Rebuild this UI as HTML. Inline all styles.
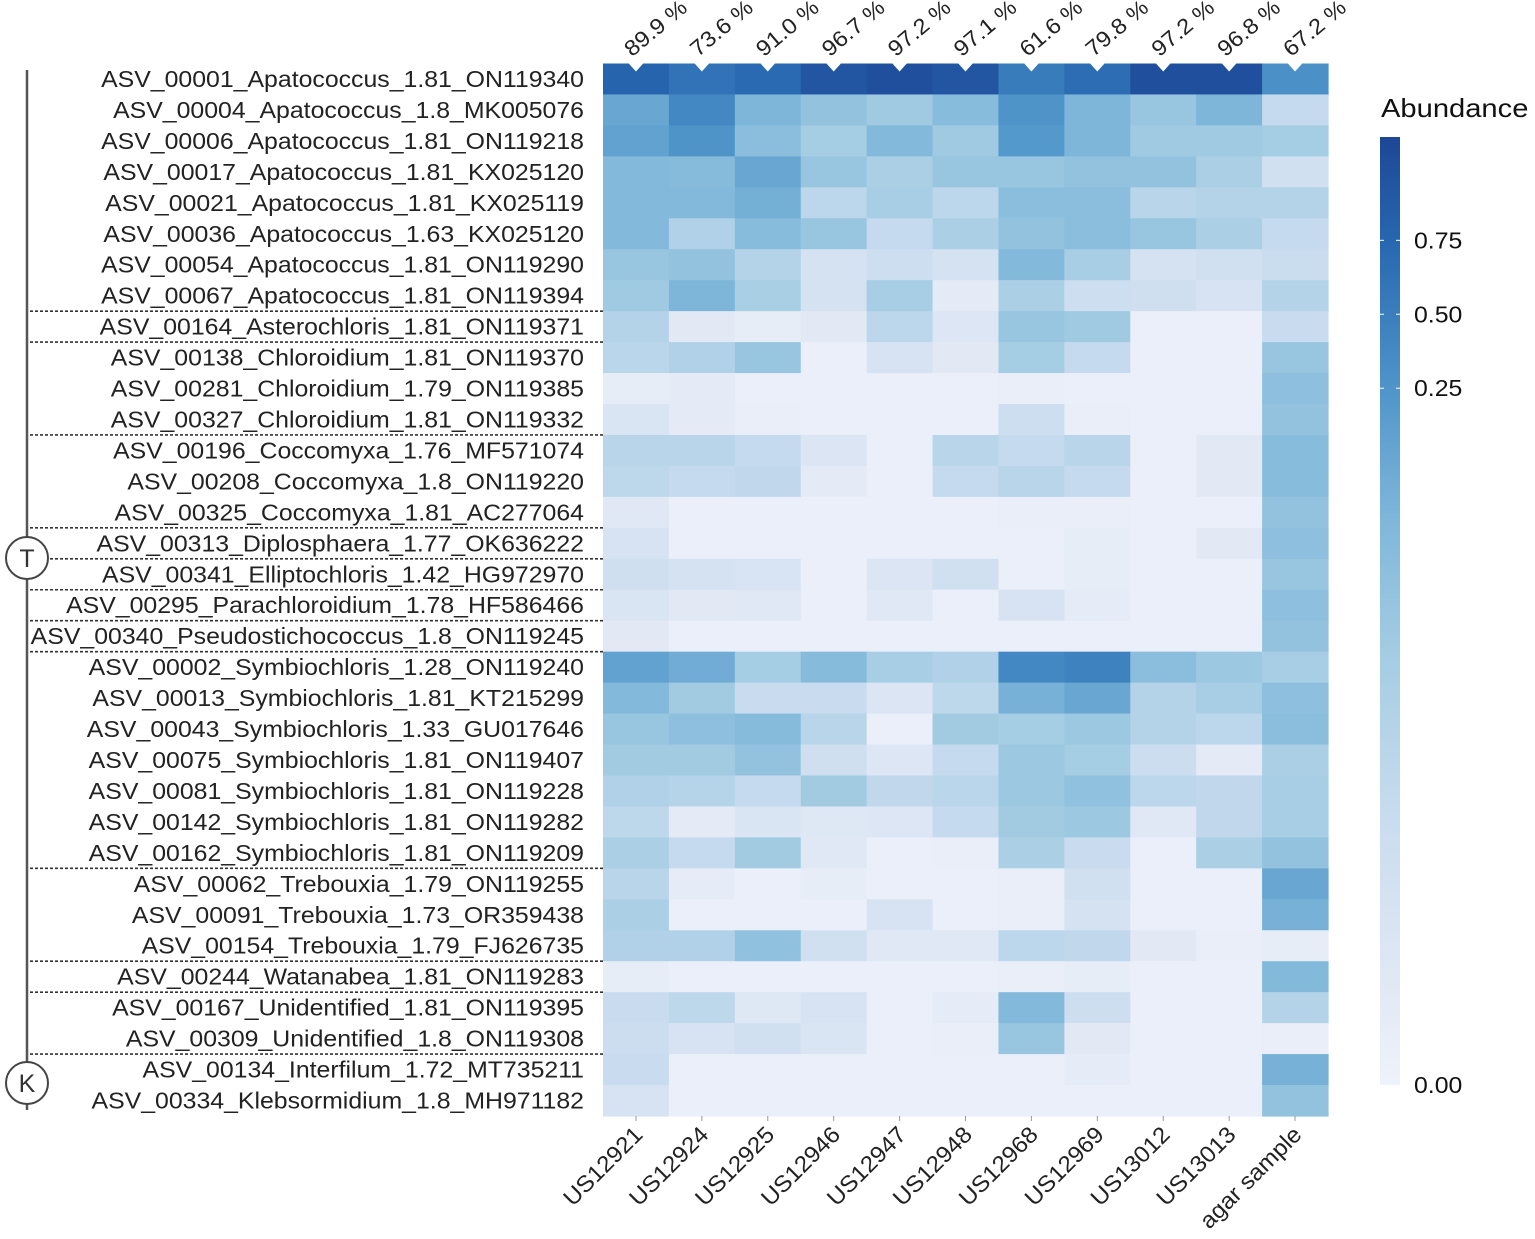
<!DOCTYPE html>
<html><head><meta charset="utf-8"><style>
html,body{margin:0;padding:0;background:#fff;}
svg{display:block;font-family:"Liberation Sans",Arial,sans-serif;}
</style></head><body>
<svg id="chart" width="1535" height="1239" viewBox="0 0 1535 1239" xmlns="http://www.w3.org/2000/svg">
<defs>
<linearGradient id="cbar" x1="0" y1="1" x2="0" y2="0">
<stop offset="0" stop-color="#eff2fa"/><stop offset="0.1" stop-color="#e2e9f5"/>
<stop offset="0.28" stop-color="#c9dcef"/><stop offset="0.45" stop-color="#a5cde3"/>
<stop offset="0.6" stop-color="#7eb6da"/><stop offset="0.735" stop-color="#4f95c9"/>
<stop offset="0.89" stop-color="#2767b0"/><stop offset="1" stop-color="#1d4796"/>
</linearGradient>
</defs>
<g id="cells"></g>
<g id="rowlabels"></g>
<g id="collabels"></g>
<g id="pcts"></g>
<g id="seps"></g>
<line x1="27" y1="70" x2="27" y2="1110" stroke="#555" stroke-width="2.5"/>
<g>
<circle cx="27" cy="558" r="21" fill="#fff" stroke="#444" stroke-width="2"/>
<text x="27" y="567" font-size="25" text-anchor="middle" fill="#333">T</text></g>
<g>
<circle cx="27" cy="1083" r="21" fill="#fff" stroke="#444" stroke-width="2"/>
<text x="27" y="1092" font-size="25" text-anchor="middle" fill="#333">K</text></g>
<g>
<text class="st" data-f="1.12" x="1381" y="117" font-size="26" fill="#111">Abundance</text>
<rect x="1380" y="137" width="20" height="948" fill="url(#cbar)"/>
<g id="legticks"></g>
</g>
</svg>
<script>
const samples=["US12921","US12924","US12925","US12946","US12947","US12948","US12968","US12969","US13012","US13013","agar sample"];
const percents=["89.9 %","73.6 %","91.0 %","96.7 %","97.2 %","97.1 %","61.6 %","79.8 %","97.2 %","96.8 %","67.2 %"];
const asvs=["ASV_00001_Apatococcus_1.81_ON119340","ASV_00004_Apatococcus_1.8_MK005076","ASV_00006_Apatococcus_1.81_ON119218","ASV_00017_Apatococcus_1.81_KX025120","ASV_00021_Apatococcus_1.81_KX025119","ASV_00036_Apatococcus_1.63_KX025120","ASV_00054_Apatococcus_1.81_ON119290","ASV_00067_Apatococcus_1.81_ON119394","ASV_00164_Asterochloris_1.81_ON119371","ASV_00138_Chloroidium_1.81_ON119370","ASV_00281_Chloroidium_1.79_ON119385","ASV_00327_Chloroidium_1.81_ON119332","ASV_00196_Coccomyxa_1.76_MF571074","ASV_00208_Coccomyxa_1.8_ON119220","ASV_00325_Coccomyxa_1.81_AC277064","ASV_00313_Diplosphaera_1.77_OK636222","ASV_00341_Elliptochloris_1.42_HG972970","ASV_00295_Parachloroidium_1.78_HF586466","ASV_00340_Pseudostichococcus_1.8_ON119245","ASV_00002_Symbiochloris_1.28_ON119240","ASV_00013_Symbiochloris_1.81_KT215299","ASV_00043_Symbiochloris_1.33_GU017646","ASV_00075_Symbiochloris_1.81_ON119407","ASV_00081_Symbiochloris_1.81_ON119228","ASV_00142_Symbiochloris_1.81_ON119282","ASV_00162_Symbiochloris_1.81_ON119209","ASV_00062_Trebouxia_1.79_ON119255","ASV_00091_Trebouxia_1.73_OR359438","ASV_00154_Trebouxia_1.79_FJ626735","ASV_00244_Watanabea_1.81_ON119283","ASV_00167_Unidentified_1.81_ON119395","ASV_00309_Unidentified_1.8_ON119308","ASV_00134_Interfilum_1.72_MT735211","ASV_00334_Klebsormidium_1.8_MH971182"];
// values = position on the (transformed) colour scale, 0..1
const values=[
[0.9,0.85,0.88,0.95,0.97,0.95,0.82,0.87,0.97,0.97,0.75],
[0.66,0.78,0.6,0.52,0.47,0.56,0.74,0.6,0.5,0.6,0.3],
[0.68,0.74,0.55,0.45,0.58,0.47,0.72,0.6,0.47,0.47,0.45],
[0.58,0.57,0.66,0.5,0.42,0.5,0.5,0.52,0.52,0.42,0.22],
[0.58,0.58,0.63,0.34,0.44,0.34,0.55,0.55,0.36,0.38,0.38],
[0.58,0.4,0.56,0.5,0.3,0.42,0.52,0.55,0.5,0.42,0.3],
[0.5,0.52,0.38,0.2,0.25,0.2,0.58,0.44,0.2,0.22,0.27],
[0.47,0.6,0.43,0.2,0.44,0.08,0.42,0.25,0.24,0.18,0.38],
[0.38,0.1,0.06,0.1,0.34,0.14,0.5,0.47,0.03,0.03,0.28],
[0.35,0.4,0.5,0.03,0.18,0.1,0.45,0.3,0.03,0.03,0.5],
[0.06,0.08,0.03,0.03,0.03,0.03,0.05,0.03,0.03,0.03,0.54],
[0.16,0.08,0.05,0.03,0.03,0.03,0.25,0.05,0.03,0.03,0.52],
[0.36,0.36,0.3,0.15,0.03,0.36,0.3,0.36,0.03,0.1,0.56],
[0.33,0.3,0.32,0.08,0.03,0.3,0.36,0.3,0.03,0.1,0.56],
[0.12,0.03,0.03,0.03,0.03,0.03,0.04,0.05,0.03,0.03,0.52],
[0.18,0.03,0.03,0.03,0.03,0.03,0.03,0.06,0.03,0.1,0.54],
[0.24,0.2,0.17,0.03,0.15,0.22,0.03,0.06,0.03,0.03,0.5],
[0.16,0.1,0.12,0.03,0.12,0.03,0.18,0.07,0.03,0.03,0.54],
[0.1,0.03,0.03,0.03,0.03,0.03,0.03,0.03,0.03,0.03,0.52],
[0.68,0.64,0.45,0.57,0.44,0.4,0.78,0.8,0.55,0.48,0.44],
[0.58,0.46,0.28,0.28,0.15,0.33,0.62,0.66,0.38,0.44,0.54],
[0.5,0.54,0.57,0.36,0.03,0.46,0.45,0.48,0.38,0.34,0.55],
[0.46,0.46,0.52,0.24,0.14,0.3,0.48,0.45,0.26,0.08,0.42],
[0.4,0.37,0.3,0.46,0.32,0.35,0.48,0.53,0.34,0.32,0.44],
[0.33,0.08,0.16,0.13,0.14,0.3,0.46,0.48,0.12,0.32,0.44],
[0.42,0.3,0.46,0.12,0.03,0.04,0.42,0.28,0.03,0.42,0.52],
[0.36,0.07,0.03,0.06,0.03,0.03,0.04,0.22,0.03,0.03,0.66],
[0.42,0.03,0.03,0.03,0.18,0.03,0.04,0.2,0.03,0.03,0.62],
[0.4,0.4,0.53,0.22,0.12,0.12,0.34,0.32,0.1,0.04,0.06],
[0.06,0.03,0.03,0.03,0.03,0.03,0.04,0.06,0.03,0.03,0.58],
[0.28,0.33,0.13,0.18,0.03,0.07,0.58,0.25,0.03,0.03,0.38],
[0.26,0.18,0.22,0.16,0.03,0.04,0.5,0.1,0.03,0.03,0.05],
[0.28,0.03,0.03,0.03,0.03,0.03,0.03,0.07,0.03,0.03,0.62],
[0.18,0.03,0.03,0.03,0.03,0.03,0.03,0.03,0.03,0.03,0.52]];
const separatorsAfter=[8,9,12,15,16,17,18,19,26,29,30,32];
const legendTicks=["0.00","0.25","0.50","0.75"];
const legendPos=[0,0.735,0.813,0.891];

const NS="http://www.w3.org/2000/svg";
const X0=603,X1=1328,Y0=63.5,Y1=1116;
const cw=(X1-X0)/samples.length, rh=(Y1-Y0)/asvs.length;
const xs=i=>X0+i*cw, ys=j=>Y0+j*rh;
const stops=[[0,[239,242,250]],[0.1,[226,233,245]],[0.28,[201,220,239]],[0.45,[165,205,227]],[0.6,[126,182,218]],[0.735,[79,149,201]],[0.89,[39,103,176]],[1,[29,71,150]]];
function col(t){t=Math.max(0,Math.min(1,t));for(let k=1;k<stops.length;k++){if(t<=stops[k][0]){const a=stops[k-1],b=stops[k],f=(t-a[0])/(b[0]-a[0]);return "rgb("+a[1].map((v,i)=>Math.round(v+(b[1][i]-v)*f)).join(",")+")";}}return "rgb(29,71,150)";}
function mk(tag,attrs,parent,txt){const e=document.createElementNS(NS,tag);for(const k in attrs)e.setAttribute(k,attrs[k]);if(txt!==undefined)e.textContent=txt;parent.appendChild(e);return e;}
const gc=document.getElementById('cells');
values.forEach((row,j)=>row.forEach((v,i)=>{
 const r=mk('rect',{x:xs(i),y:ys(j),width:cw+0.6,height:rh+0.6,fill:col(v)},gc);
 
 
}));
const gr=document.getElementById('rowlabels');
asvs.forEach((s,j)=>{const t=mk('text',{x:584,y:ys(j)+rh/2+8,'font-size':23,'text-anchor':'end',fill:'#222',class:'st','data-f':'1.08'},gr,s);
 
 });
const gx=document.getElementById('collabels');
samples.forEach((s,i)=>{const cx=xs(i)+cw/2;
 mk('line',{x1:cx,y1:Y1,x2:cx,y2:Y1+5,stroke:'#999'},gx);
 const t=mk('text',{x:cx+8,y:Y1+20,'font-size':23,'text-anchor':'end',fill:'#222',class:'st','data-f':'1.05',transform:`rotate(-45 ${cx+8} ${Y1+20})`},gx,s);
 
 });
const gp=document.getElementById('pcts');
percents.forEach((p,i)=>{const cx=xs(i)+cw/2;
 mk('path',{d:`M${cx-9} ${Y0-2} L${cx} ${Y0-11} L${cx+9} ${Y0-2} L${cx} ${Y0+8}Z`,fill:'#fff'},gp);
 const t=mk('text',{x:cx-4,y:Y0-6,'font-size':22,fill:'#222',class:'st','data-f':'1.08',transform:`rotate(-40 ${cx-4} ${Y0-6})`},gp,p);
 
 });
const gs=document.getElementById('seps');
separatorsAfter.forEach(k=>{const l=mk('line',{x1:30,x2:X0,y1:ys(k),y2:ys(k),stroke:'#333','stroke-width':1.6,'stroke-dasharray':'3,2'},gs);
 
 });
const gl=document.getElementById('legticks');
legendTicks.forEach((lab,k)=>{const y=1085-legendPos[k]*948;
 if(k>0){mk('line',{x1:1380,x2:1384,y1:y,y2:y,stroke:'#fff'},gl);mk('line',{x1:1396,x2:1400,y1:y,y2:y,stroke:'#fff'},gl);}
 const t=mk('text',{x:1414,y:y+8,'font-size':23,fill:'#111',class:'st','data-f':'1.08'},gl,lab);
 
 });
document.querySelectorAll('text.st').forEach(t=>{const w=t.getComputedTextLength();const f=parseFloat(t.getAttribute('data-f'));
 t.setAttribute('textLength',(w*f).toFixed(1));t.setAttribute('lengthAdjust','spacingAndGlyphs');});
</script>
</body></html>
